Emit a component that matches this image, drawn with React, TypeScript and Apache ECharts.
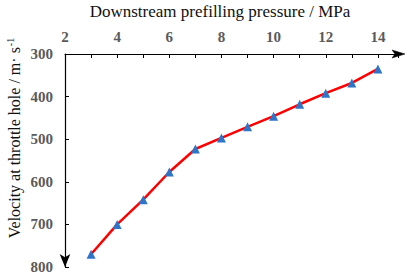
import React, { useEffect, useRef } from "react";
import * as echarts from "echarts";

const pressures = [3, 4, 5, 6, 7, 8, 9, 10, 11, 12, 13, 14];
const velocities = [770, 700, 642, 577, 523, 497, 471, 446, 418, 392, 368, 335];
const xTitle = "Downstream prefilling pressure / MPa";
const yTitleMain = "Velocity at throttle hole / m· s";
const yTitleSup = "-1";
const xMin = 2;
const xMax = 14.77;
const yMin = 300;
const yMax = 800;

const W = 408;
const H = 274;
const GRID = { left: 65, right: 10, top: 54, bottom: 7 };

export default function App() {
  const ref = useRef<HTMLDivElement>(null);
  useEffect(() => {
    const chart = echarts.init(ref.current!, null, { renderer: "svg" });
    const serif = "'Liberation Serif', 'Times New Roman', serif";
    const ax = W - GRID.right;
    const ay = GRID.top;
    chart.setOption({
      animation: false,
      grid: { ...GRID, containLabel: false, outerBoundsMode: "none" },
      graphic: [
        {
          id: "xTitle",
          type: "text",
          x: 220,
          y: 11,
          style: {
            text: xTitle,
            fontFamily: serif,
            fontSize: 17,
            fill: "#111",
            align: "center",
            verticalAlign: "middle",
          },
        },
        {
          id: "yTitle",
          type: "text",
          x: 14,
          y: 138,
          rotation: Math.PI / 2,
          style: {
            text: `{a|${yTitleMain}}{s|${yTitleSup}}`,
            align: "center",
            verticalAlign: "middle",
            rich: {
              a: { fontFamily: serif, fontSize: 16, fill: "#111" },
              s: { fontFamily: serif, fontSize: 10, fill: "#111", verticalAlign: "top", padding: [0, 0, 8, 1] },
            },
          },
        },
        {
          id: "xArrow",
          type: "polygon",
          z: 100,
          shape: { points: [[ax - 6, ay - 4], [ax + 7, ay], [ax - 6, ay + 4], [ax - 3, ay]] },
          style: { fill: "#000", stroke: "#000", lineWidth: 0.5 },
        },
      ],
      xAxis: {
        type: "value",
        position: "top",
        min: xMin,
        max: xMax,
        interval: 1,
        axisLine: {
          show: true,
          onZero: false,
          lineStyle: { color: "#000", width: 1.2 },
        },
        axisTick: { show: true, inside: true, length: 4, lineStyle: { color: "#000" } },
        axisLabel: {
          fontFamily: serif,
          fontSize: 15,
          fontWeight: "bold",
          color: "#5a5a5a",
          margin: 10,
          formatter: (v: number) => (Number.isInteger(v) && v % 2 === 0 ? String(v) : ""),
        },
        splitLine: { show: false },
      },
      yAxis: {
        type: "value",
        inverse: true,
        min: yMin,
        max: yMax,
        interval: 100,
        axisLine: {
          show: true,
          onZero: false,
          lineStyle: { color: "#000", width: 1.2 },
          symbol: ["arrow", "none"],
          symbolSize: [8, 13],
        },
        axisTick: { show: true, inside: true, length: 4, lineStyle: { color: "#000" } },
        axisLabel: {
          fontFamily: serif,
          fontSize: 15,
          fontWeight: "bold",
          color: "#5a5a5a",
          margin: 12,
        },
        splitLine: { show: false },
      },
      series: [
        {
          type: "line",
          data: pressures.map((p, i) => [p, velocities[i]]),
          lineStyle: { color: "#ff0000", width: 2.5 },
          itemStyle: { color: "#2e75c8" },
          symbol: "triangle",
          symbolSize: 9,
        },
      ],
    });
    return () => chart.dispose();
  }, []);
  return (
    <div
      ref={ref}
      style={{ position: "absolute", left: 0, top: 0, width: W, height: H, background: "#fff" }}
    />
  );
}
